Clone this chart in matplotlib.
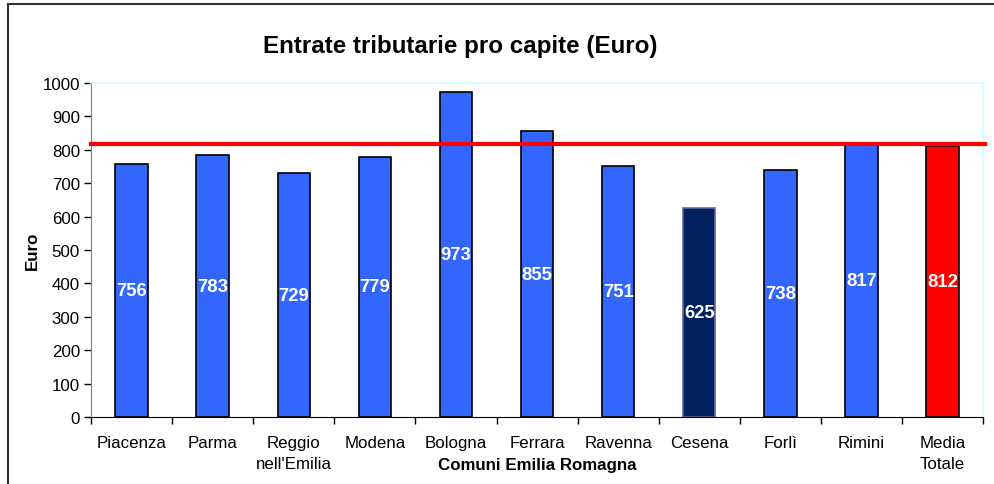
import matplotlib.pyplot as plt
from matplotlib.lines import Line2D

plt.rcParams['font.family'] = ['Liberation Sans', 'DejaVu Sans']

comuni = ["Piacenza", "Parma", "Reggio\nnell'Emilia", "Modena", "Bologna", "Ferrara",
          "Ravenna", "Cesena", "Forlì", "Rimini", "Media\nTotale"]
entrate = [756, 783, 729, 779, 973, 855, 751, 625, 738, 817, 812]
colori = ["#3366FF"] * 7 + ["#002060", "#3366FF", "#3366FF", "#FF0000"]
bordi = ["black"] * 7 + ["#666699", "black", "black", "black"]
linea_rif = 817

fig = plt.figure(figsize=(9.94, 4.85), dpi=100)
ax = fig.add_axes([0.0916, 0.138, 0.8974, 0.689])

x = list(range(len(comuni)))
ax.bar(x, entrate, width=0.4, color=colori, edgecolor=bordi, linewidth=1.2, zorder=2)
for xi, v in zip(x, entrate):
    ax.text(xi, v / 2, str(v), color="white", fontsize=13.3, fontweight="bold",
            ha="center", va="center", zorder=3)

ax.axhline(linea_rif, xmin=0, xmax=1.002, color="#FF0000", linewidth=3, zorder=4, clip_on=False)

ax.set_xlim(-0.5, len(comuni) - 0.5)
ax.set_ylim(0, 1000)
ax.set_yticks(range(0, 1001, 100))
ax.set_xticks([i - 0.5 for i in range(len(comuni) + 1)])
ax.set_xticklabels([])
ax.set_xticks(x, minor=True)
ax.set_xticklabels(comuni, minor=True, linespacing=1.45)
ax.tick_params(axis="x", which="major", length=5, width=1, color="black", direction="out")
ax.tick_params(axis="x", which="minor", length=0, pad=13, labelsize=12.2)
ax.tick_params(axis="y", length=5, width=1, labelsize=12.2, pad=3)

for s in ["top", "right"]:
    ax.spines[s].set_color("#CCFFFF")
    ax.spines[s].set_linewidth(1.2)
ax.spines["left"].set_color("#808080")
ax.spines["bottom"].set_color("black")

ax.set_ylabel("Euro", fontsize=12.2, fontweight="bold", labelpad=2)
fig.text(0.540, 0.041, "Comuni Emilia Romagna", fontsize=12.2, fontweight="bold",
         ha="center", va="center")
fig.text(0.463, 0.905, "Entrate tributarie pro capite (Euro)", fontsize=17.4,
         fontweight="bold", ha="center", va="center")

# cornice del grafico (solo lati superiore e sinistro visibili)
fig.add_artist(Line2D([0.0085, 1.0], [0.99, 0.99], color="#333333", linewidth=1.5))
fig.add_artist(Line2D([0.0085, 0.0085], [0.0, 0.99], color="#333333", linewidth=1.5))

fig.savefig("out.png", dpi=100)
